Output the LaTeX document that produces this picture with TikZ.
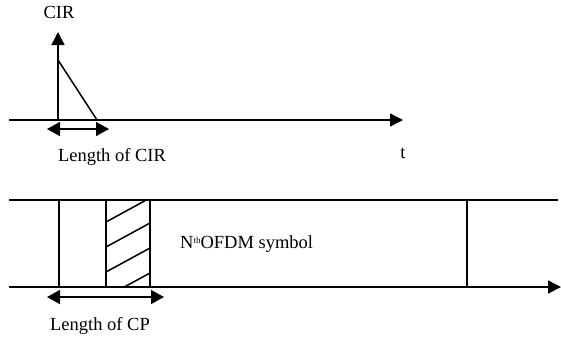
\documentclass[tikz,border=0pt]{standalone}
\usepackage{fontspec}
\setmainfont{Liberation Serif}
\usetikzlibrary{arrows.meta}
\begin{document}
\begin{tikzpicture}[x=1pt,y=-1pt,
  ln/.style={line width=1.5pt},
  tip/.style={-{Triangle[length=13pt,width=13pt]}},
  dtip/.style={{Triangle[length=13pt,width=14pt]}-{Triangle[length=13pt,width=14pt]}},
  lbl/.style={font=\fontsize{18.5}{20}\selectfont, inner sep=0pt}]
\useasboundingbox (0,0) rectangle (561,341);
% ---- top: CIR ----
\coordinate (ax0) at (9,120);
\coordinate (ax1) at (403,120);
\coordinate (v0) at (58,120);
\coordinate (v1) at (58,32);
\coordinate (pk) at (58,60);
\coordinate (pe) at (97,120);
\draw[ln,tip] (ax0) -- (ax1);
\draw[ln,tip] (v0) -- (v1);
\draw[ln] (pk) -- (pe);
\coordinate (ca) at (47,129);
\coordinate (cb) at (109,129);
\draw[ln,dtip] (ca) -- (cb);
\node[lbl] (cir) at (59,12) {CIR};
\node[lbl] (lcir) at (112,157) {Length of CIR};
\node[lbl] (t) at (403,153) {t};
% ---- bottom: OFDM ----
\coordinate (ta) at (9,200);
\coordinate (tb) at (558,200);
\coordinate (ba) at (9,287);
\coordinate (bb) at (561,287);
\draw[ln] (ta) -- (tb);
\draw[ln,tip] (ba) -- (bb);
\foreach \x/\n in {59/a,106/b,150/c,467/d}{
  \coordinate (u\n) at (\x,200);
  \coordinate (l\n) at (\x,287);
  \draw[ln] (u\n) -- (l\n);
}
\begin{scope}
  \clip (106,200) rectangle (150,287);
  \foreach \y in {222,247,272,297}{
    \draw[ln] (106,\y) -- (150,\y-24);
  }
\end{scope}
\coordinate (pa) at (47,297);
\coordinate (pb) at (164,297);
\draw[ln,dtip] (pa) -- (pb);
\node[lbl,anchor=west] (sym) at (180,244) {N\raisebox{5pt}{\fontsize{9}{9}\selectfont th}OFDM symbol};
\node[lbl] (lcp) at (100,326) {Length of CP};
\end{tikzpicture}
\end{document}
